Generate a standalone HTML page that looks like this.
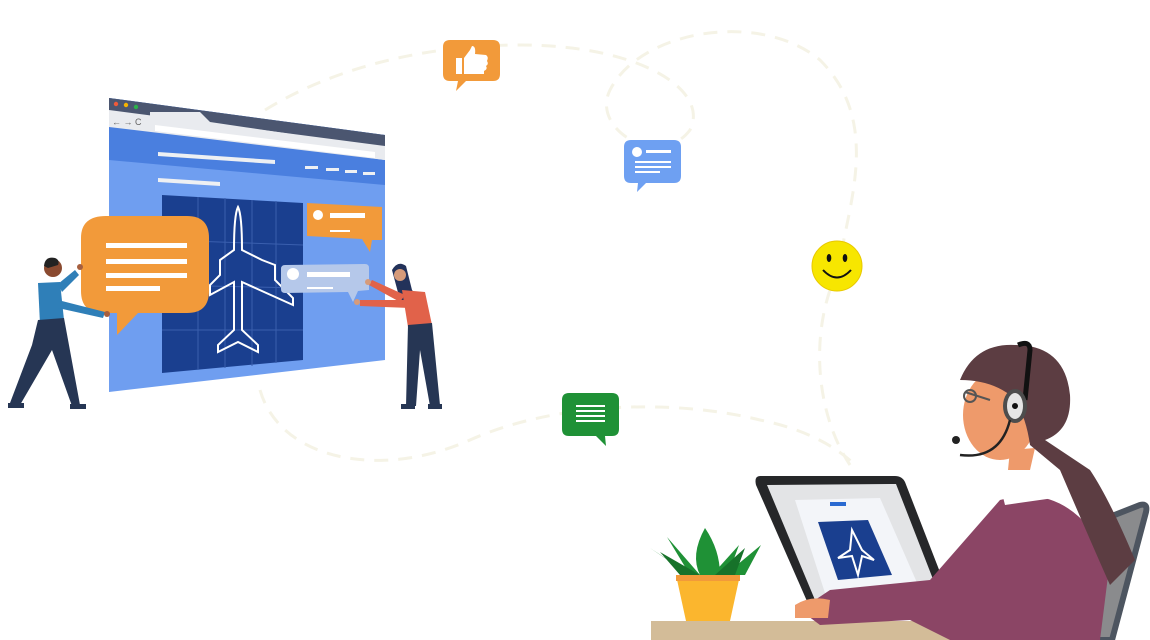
<!DOCTYPE html>
<html><head><meta charset="utf-8"><style>html,body{margin:0;padding:0;background:#fff;width:1150px;height:640px;overflow:hidden}</style></head>
<body>
<svg width="1150" height="640" viewBox="0 0 1150 640" xmlns="http://www.w3.org/2000/svg">
<!-- faint dashed paths -->
<g fill="none" stroke="#f5f3e6" stroke-width="3" stroke-dasharray="14 10">
<path d="M265,110 C330,70 420,45 520,45 C640,45 710,90 690,130 C660,170 590,130 610,90 C640,30 760,10 820,60 C880,120 850,200 840,260"/>
<path d="M830,290 C810,350 820,420 850,465"/>
<path d="M260,390 C280,460 380,480 470,440 C560,400 680,400 760,420 C810,430 840,450 855,465"/>
</g>
<!-- browser -->
<polygon points="109,98 385,135 385,360 109,392" fill="#6f9ef0"/>
<polygon points="109,98 385,135 385,185 109,160" fill="#4a7fdf"/>
<polygon points="109,98 385,135 385,150 109,112" fill="#4b5670"/>
<polygon points="109,110 385,146 385,160 109,127" fill="#e9ebef"/>
<polygon points="150,112 200,112 210,122 385,148 385,160 150,128" fill="#e9ebef"/>
<polygon points="155,125 375,152 375,158 155,131" fill="#fff"/>
<circle cx="116" cy="104" r="2.2" fill="#f05a3a"/><circle cx="126" cy="105" r="2.2" fill="#f5b400"/><circle cx="136" cy="107" r="2.2" fill="#2bb34a"/>
<text x="112" y="125" font-family="Liberation Sans,sans-serif" font-size="9" fill="#666">← → C</text>
<polygon points="158,152 275,160 275,164 158,156" fill="#eef0f3"/>
<polygon points="158,178 220,182 220,186 158,182" fill="#eef0f3"/>
<g fill="#eef0f3"><rect x="305" y="166" width="13" height="3"/><rect x="326" y="168" width="13" height="3"/><rect x="345" y="170" width="12" height="3"/><rect x="363" y="172" width="12" height="3"/></g>
<!-- blueprint -->
<polygon points="162,195 303,203 303,360 162,373" fill="#1a3f8f"/>
<g stroke="#3a5fae" stroke-width="1"><line x1="198" y1="197" x2="198" y2="370"/><line x1="225" y1="198" x2="225" y2="368"/><line x1="252" y1="200" x2="252" y2="366"/><line x1="276" y1="201" x2="276" y2="363"/><line x1="162" y1="240" x2="303" y2="245"/><line x1="162" y1="285" x2="303" y2="288"/><line x1="162" y1="330" x2="303" y2="330"/></g>
<path d="M238,207 C234,215 234,240 234,250 L220,260 L220,275 L210,285 L210,295 L234,282 L234,330 L218,345 L218,352 L238,342 L258,352 L258,345 L242,330 L242,282 L293,305 L293,298 L275,280 L275,265 L262,260 L242,250 C242,240 242,215 238,207Z" fill="none" stroke="#fff" stroke-width="2"/>
<!-- small orange bubble -->
<path d="M307,203 L382,207 L382,240 L372,240 L370,252 L362,239 L307,236Z" fill="#f29a3a"/>
<circle cx="318" cy="215" r="5" fill="#fff"/><rect x="330" y="213" width="35" height="5" fill="#fff"/><rect x="330" y="230" width="20" height="2" fill="#fff"/>
<!-- light bubble -->
<path d="M285,265 L365,264 Q369,264 369,268 L369,290 L358,291 L353,302 L348,292 L285,293 Q281,293 281,289 L281,269 Q281,265 285,265Z" fill="#b5c8ea"/>
<circle cx="293" cy="274" r="6" fill="#fff"/><rect x="307" y="272" width="43" height="5" fill="#fff"/><rect x="307" y="287" width="26" height="2" fill="#fff"/>
<!-- big orange bubble -->
<path d="M106,216 L187,216 Q209,216 209,238 L209,291 Q209,313 187,313 L138,313 L117,335 L117,313 L103,313 Q81,313 81,291 L81,238 Q81,216 106,216Z" fill="#f29a3a"/>
<g fill="#fff"><rect x="106" y="243" width="81" height="5"/><rect x="106" y="259" width="81" height="5"/><rect x="106" y="273" width="81" height="5"/><rect x="106" y="286" width="54" height="5"/></g>
<!-- man -->
<circle cx="53" cy="268" r="9" fill="#8a4a30"/><path d="M44,266 Q45,256 55,258 Q60,260 58,265 L48,268Z" fill="#222"/>
<path d="M38,283 L60,282 L64,320 L40,324 Z" fill="#2f7fb8"/>
<path d="M58,284 L75,270 L79,275 L62,292Z" fill="#2f7fb8"/><path d="M58,300 L105,312 L103,318 L58,308Z" fill="#2f7fb8"/>
<circle cx="80" cy="267" r="3" fill="#a65f3f"/><circle cx="107" cy="314" r="3" fill="#a65f3f"/>
<path d="M38,320 L64,318 L80,405 L72,406 L52,350 L20,405 L10,403 L32,345Z" fill="#263654"/>
<rect x="8" y="403" width="16" height="5" fill="#263654"/><rect x="70" y="404" width="16" height="5" fill="#263654"/>
<!-- woman left -->
<path d="M392,270 Q398,260 406,266 L412,290 L420,300 L400,300 Z" fill="#23325a"/>
<circle cx="400" cy="275" r="6" fill="#d69b7a"/>
<path d="M402,290 L425,292 L432,325 L408,327Z" fill="#e1624a"/>
<path d="M405,295 L372,280 L369,285 L400,302Z" fill="#e1624a"/><path d="M408,300 L360,300 L360,306 L410,308Z" fill="#e1624a"/>
<circle cx="368" cy="282" r="3" fill="#d69b7a"/><circle cx="357" cy="302" r="3" fill="#d69b7a"/>
<path d="M408,325 L432,323 L440,405 L430,406 L420,350 L416,406 L406,406Z" fill="#263654"/>
<rect x="401" y="404" width="14" height="5" fill="#263654"/><rect x="428" y="404" width="14" height="5" fill="#263654"/>
<!-- thumbs up -->
<path d="M450,40 L493,40 Q500,40 500,47 L500,74 Q500,81 493,81 L466,81 L456,91 L458,81 L450,81 Q443,81 443,74 L443,47 Q443,40 450,40Z" fill="#f29a3a"/>
<path d="M456,58 L462,58 L462,74 L456,74Z M464,58 L470,50 L472,46 Q476,46 475,54 L486,55 Q489,57 487,61 Q489,64 486,66 Q488,69 484,71 L484,74 L464,74Z" fill="#fff"/>
<!-- blue chat -->
<path d="M631,140 L674,140 Q681,140 681,147 L681,176 Q681,183 674,183 L646,183 L637,192 L638,183 L631,183 Q624,183 624,176 L624,147 Q624,140 631,140Z" fill="#6ea0f2"/>
<circle cx="637" cy="152" r="5" fill="#fff"/><g fill="#fff"><rect x="646" y="150" width="25" height="3"/><rect x="635" y="161" width="36" height="2"/><rect x="635" y="166" width="36" height="2"/><rect x="635" y="171" width="25" height="2"/></g>
<!-- smiley -->
<circle cx="837" cy="266" r="25" fill="#f7e600" stroke="#e8c800" stroke-width="1"/>
<ellipse cx="829" cy="258" rx="2.3" ry="4" fill="#111"/><ellipse cx="845" cy="258" rx="2.3" ry="4" fill="#111"/>
<path d="M823,270 Q837,285 851,270" fill="none" stroke="#111" stroke-width="2"/>
<!-- green chat -->
<path d="M569,393 L612,393 Q619,393 619,400 L619,429 Q619,436 612,436 L605,436 L606,446 L596,436 L569,436 Q562,436 562,429 L562,400 Q562,393 569,393Z" fill="#1f9136"/>
<g fill="#fff"><rect x="576" y="405" width="29" height="2"/><rect x="576" y="410" width="29" height="2"/><rect x="576" y="415" width="29" height="2"/><rect x="576" y="420" width="29" height="2"/></g>
<!-- chair -->
<path d="M1000,560 L1140,505 Q1148,503 1146,512 L1112,640 L985,640Z" fill="#8a8b8d" stroke="#4d5560" stroke-width="6"/>
<!-- desk -->
<rect x="651" y="621" width="320" height="19" fill="#d3bc98"/>
<!-- plant -->
<path d="M676,575 L740,575 L730,621 L686,621Z" fill="#fbb62e"/><rect x="676" y="575" width="64" height="6" fill="#f29a3a"/>
<path d="M650,548 L690,575 L676,565Z M667,537 L700,575 L690,575Z M705,528 Q690,555 700,575 L720,575 Q720,550 705,528Z M739,545 L712,575 L728,575Z M761,545 L725,575 L745,575Z" fill="#1f9136"/>
<path d="M660,552 L700,575 L680,575Z M745,548 L715,575 L735,575Z" fill="#17722a"/>
<!-- laptop -->
<path d="M760,476 L895,476 Q902,476 905,482 L950,598 L810,608 L756,485 Q754,476 760,476Z" fill="#262729"/>
<path d="M767,485 L896,484 L938,592 L815,600Z" fill="#e3e4e6"/>
<path d="M795,500 L880,498 L918,585 L825,593Z" fill="#f3f5f9"/>
<path d="M818,522 L868,520 L892,575 L838,580Z" fill="#1a3f8f"/>
<path d="M852,530 L850,550 L838,558 L852,556 L858,575 L862,556 L874,560 L862,550 Z" fill="none" stroke="#fff" stroke-width="2"/>
<rect x="830" y="502" width="16" height="4" fill="#2a6ad1"/>
<!-- woman right -->
<path d="M1000,500 Q1070,480 1110,560 L1100,640 L950,640 L910,620 L820,625 L800,610 L830,590 L930,580 Z" fill="#8b4565"/>
<path d="M1000,485 L1065,470 L1075,495 L1005,505Z" fill="#fff"/>
<path d="M795,605 Q810,595 830,600 L828,618 L795,618Z" fill="#ee9a6b"/>
<ellipse cx="1000" cy="415" rx="37" ry="45" fill="#ee9a6b"/>
<path d="M1010,450 L1035,448 L1030,470 L1008,470Z" fill="#ee9a6b"/>
<path d="M960,380 Q975,343 1015,345 Q1065,345 1070,395 Q1072,430 1045,440 L1090,470 Q1110,500 1135,560 L1110,585 Q1090,540 1060,470 L1030,445 Q1025,410 1010,395 Q990,380 960,380Z" fill="#5c3d42"/>
<path d="M1018,345 Q1030,340 1030,350 L1025,400" fill="none" stroke="#111" stroke-width="5"/>
<ellipse cx="1015" cy="406" rx="12" ry="17" fill="#4d4d4d"/><ellipse cx="1015" cy="406" rx="8" ry="13" fill="#e5e5e5"/><circle cx="1015" cy="406" r="3" fill="#111"/>
<path d="M1010,420 Q1000,460 960,455" fill="none" stroke="#222" stroke-width="2.5"/><circle cx="956" cy="440" r="4" fill="#222"/>
<path d="M965,392 L990,400" stroke="#555" stroke-width="2"/><circle cx="970" cy="396" r="6" fill="none" stroke="#555" stroke-width="2"/>
</svg>
</body></html>
